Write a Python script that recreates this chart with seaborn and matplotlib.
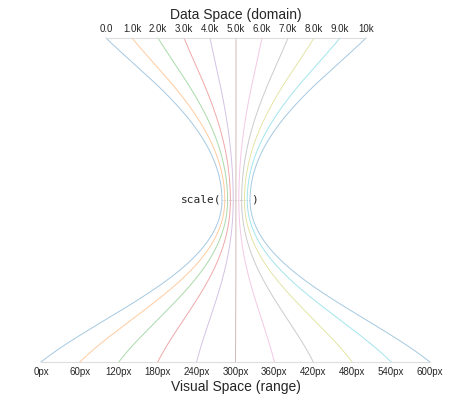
import numpy as np
import pandas as pd
import seaborn as sns
import matplotlib.pyplot as plt

domain_values = [0, 1000, 2000, 3000, 4000, 5000, 6000, 7000, 8000, 9000, 10000]
domain_labels = ["0.0", "1.0k", "2.0k", "3.0k", "4.0k", "5.0k", "6.0k", "7.0k", "8.0k", "9.0k", "10k"]
range_values = [0, 60, 120, 180, 240, 300, 360, 420, 480, 540, 600]
range_labels = [f"{v}px" for v in range_values]

sns.set_style("white")
plt.rcParams['font.family'] = ['Liberation Sans', 'DejaVu Sans']

W, H = 474, 400
fig = plt.figure(figsize=(W / 100, H / 100), dpi=100)
ax = fig.add_axes([0, 0, 1, 1])

# pixel layout
top_y, mid_y, bot_y = 38, 200, 362
def top_x(v): return 106 + v / 10000 * 260
def bot_x(v): return 41 + v / 600 * 389
def mid_x(i): return 222 + i * 2.8

colors = sns.color_palette("tab10", 10)

def bezier(p0, p1, p2, p3, n=80):
    t = np.linspace(0, 1, n)[:, None]
    return ((1 - t) ** 3) * p0 + 3 * (1 - t) ** 2 * t * p1 + 3 * (1 - t) * t ** 2 * p2 + t ** 3 * p3

rows = []
for i, (dv, rv) in enumerate(zip(domain_values, range_values)):
    xt, xm, xb = top_x(dv), mid_x(i), bot_x(rv)
    p0 = np.array([xt, top_y]); p3 = np.array([xm, mid_y])
    upper = bezier(p0, np.array([xt + (xm - xt) * 0.35, top_y + 40]),
                   np.array([xm, mid_y - 70]), p3)
    q0 = np.array([xb, bot_y])
    lower = bezier(p3, np.array([xm, mid_y + 70]),
                   np.array([xb + (xm - xb) * 0.35, bot_y - 50]), q0)
    pts = np.vstack([upper, lower])
    for k, (x, y) in enumerate(pts):
        rows.append({"line": i, "order": k, "x": x, "y": y})
df = pd.DataFrame(rows)

for i in range(len(domain_values)):
    sub = df[df["line"] == i]
    sns.lineplot(data=sub, x="x", y="y", sort=False, ax=ax, color=colors[i % 10],
                 alpha=0.4, linewidth=0.7, estimator=None)
ax.set_xlim(0, W); ax.set_ylim(H, 0); ax.axis("off")

# axes lines and labels
ax.plot([top_x(0), top_x(10000)], [top_y, top_y], color="#ddd", lw=0.8)
ax.plot([bot_x(0), bot_x(600)], [bot_y, bot_y], color="#ddd", lw=0.8)
for dv, lab in zip(domain_values, domain_labels):
    ax.text(top_x(dv), top_y - 4, lab, ha="center", va="bottom", fontsize=7)
for rv, lab in zip(range_values, range_labels):
    ax.text(bot_x(rv), bot_y + 5, lab, ha="center", va="top", fontsize=7)
ax.text(236, 15, "Data Space (domain)", ha="center", va="center", fontsize=10)
ax.text(236, 387, "Visual Space (range)", ha="center", va="center", fontsize=10)

ax.plot([mid_x(0), mid_x(10)], [mid_y, mid_y], color="#bbb", lw=0.6, ls=":")
ax.text(mid_x(0) - 1, mid_y, "scale(", ha="right", va="center", fontsize=8, family="DejaVu Sans Mono")
ax.text(mid_x(10) + 1, mid_y, ")", ha="left", va="center", fontsize=8, family="DejaVu Sans Mono")

fig.savefig("out.png", dpi=100)
